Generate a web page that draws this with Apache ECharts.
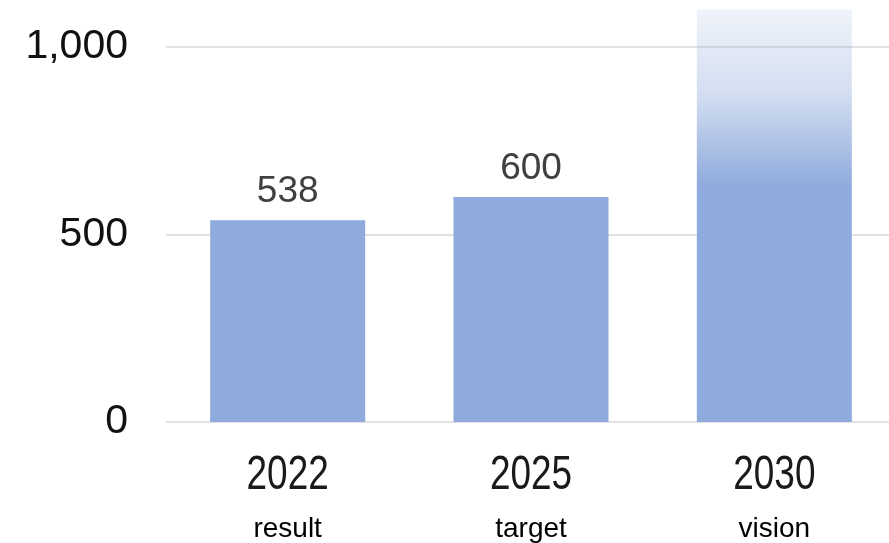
<!DOCTYPE html>
<html>
<head>
<meta charset="utf-8">
<script src="https://cdn.jsdelivr.net/npm/echarts@6/dist/echarts.min.js"></script>
<style>
  html, body { margin: 0; padding: 0; background: #fff; overflow: hidden; }
  #chart { width: 896px; height: 543px; }
</style>
</head>
<body>
<div id="chart"></div>
<script>
var categories = ['2022', '2025', '2030']
var subLabels = ['result', 'target', 'vision']
var values = [538, 600, 1100]
var showValue = [true, true, false]
var yTicks = [0, 500, 1000]

var barColor = '#8FAADC'
var chart = echarts.init(document.getElementById('chart'))

var seriesData = values.map(function (v, i) {
  var item = {
    value: v,
    label: { show: showValue[i] }
  }
  if (!showValue[i]) {
    // fading "vision" bar
    item.itemStyle = {
      color: new echarts.graphic.LinearGradient(0, 0, 0, 1, [
        { offset: 0, color: 'rgba(143,170,220,0.14)' },
        { offset: 0.2, color: 'rgba(143,170,220,0.38)' },
        { offset: 0.43, color: 'rgba(143,170,220,1)' },
        { offset: 1, color: barColor }
      ])
    }
  }
  return item
})

var option = {
  animation: false,
  backgroundColor: '#fff',
  grid: {
    left: 166,
    top: 47,
    right: 0,
    bottom: 121
  },
  xAxis: {
    type: 'category',
    data: categories,
    axisLine: { show: false },
    axisTick: { show: false },
    axisLabel: { show: false }
  },
  yAxis: {
    type: 'value',
    min: yTicks[0],
    max: yTicks[yTicks.length - 1],
    interval: yTicks[1] - yTicks[0],
    axisLine: { show: false },
    axisTick: { show: false },
    splitLine: { lineStyle: { color: '#D9D9D9', width: 1.5 } },
    axisLabel: {
      margin: 38,
      fontFamily: '"Liberation Sans", Arial, sans-serif',
      fontSize: 41,
      color: '#111',
      formatter: function (v) {
        return v.toLocaleString('en-US')
      }
    }
  },
  series: [{
    type: 'bar',
    data: seriesData,
    barWidth: 155,
    clip: false,
    itemStyle: { color: barColor },
    label: {
      position: 'top',
      distance: 10,
      fontFamily: '"Liberation Sans", Arial, sans-serif',
      fontSize: 37,
      color: '#404040'
    }
  }]
}
chart.setOption(option)

// condensed year labels + sub labels, placed from the axis scale
var labels = []
categories.forEach(function (c, i) {
  var p = chart.convertToPixel({ gridIndex: 0 }, [c, 0])
  labels.push({
    type: 'text',
    x: p[0],
    y: p[1] + 54,
    scaleX: 0.77,
    style: {
      text: c,
      font: '48px "Liberation Sans", Arial, sans-serif',
      fill: '#1a1a1a',
      align: 'center',
      verticalAlign: 'middle'
    }
  })
  labels.push({
    type: 'text',
    x: p[0],
    y: p[1] + 107,
    style: {
      text: subLabels[i],
      font: '28px "Liberation Sans", Arial, sans-serif',
      fill: '#000',
      align: 'center',
      verticalAlign: 'middle'
    }
  })
})
chart.setOption({ graphic: labels })
</script>
</body>
</html>
